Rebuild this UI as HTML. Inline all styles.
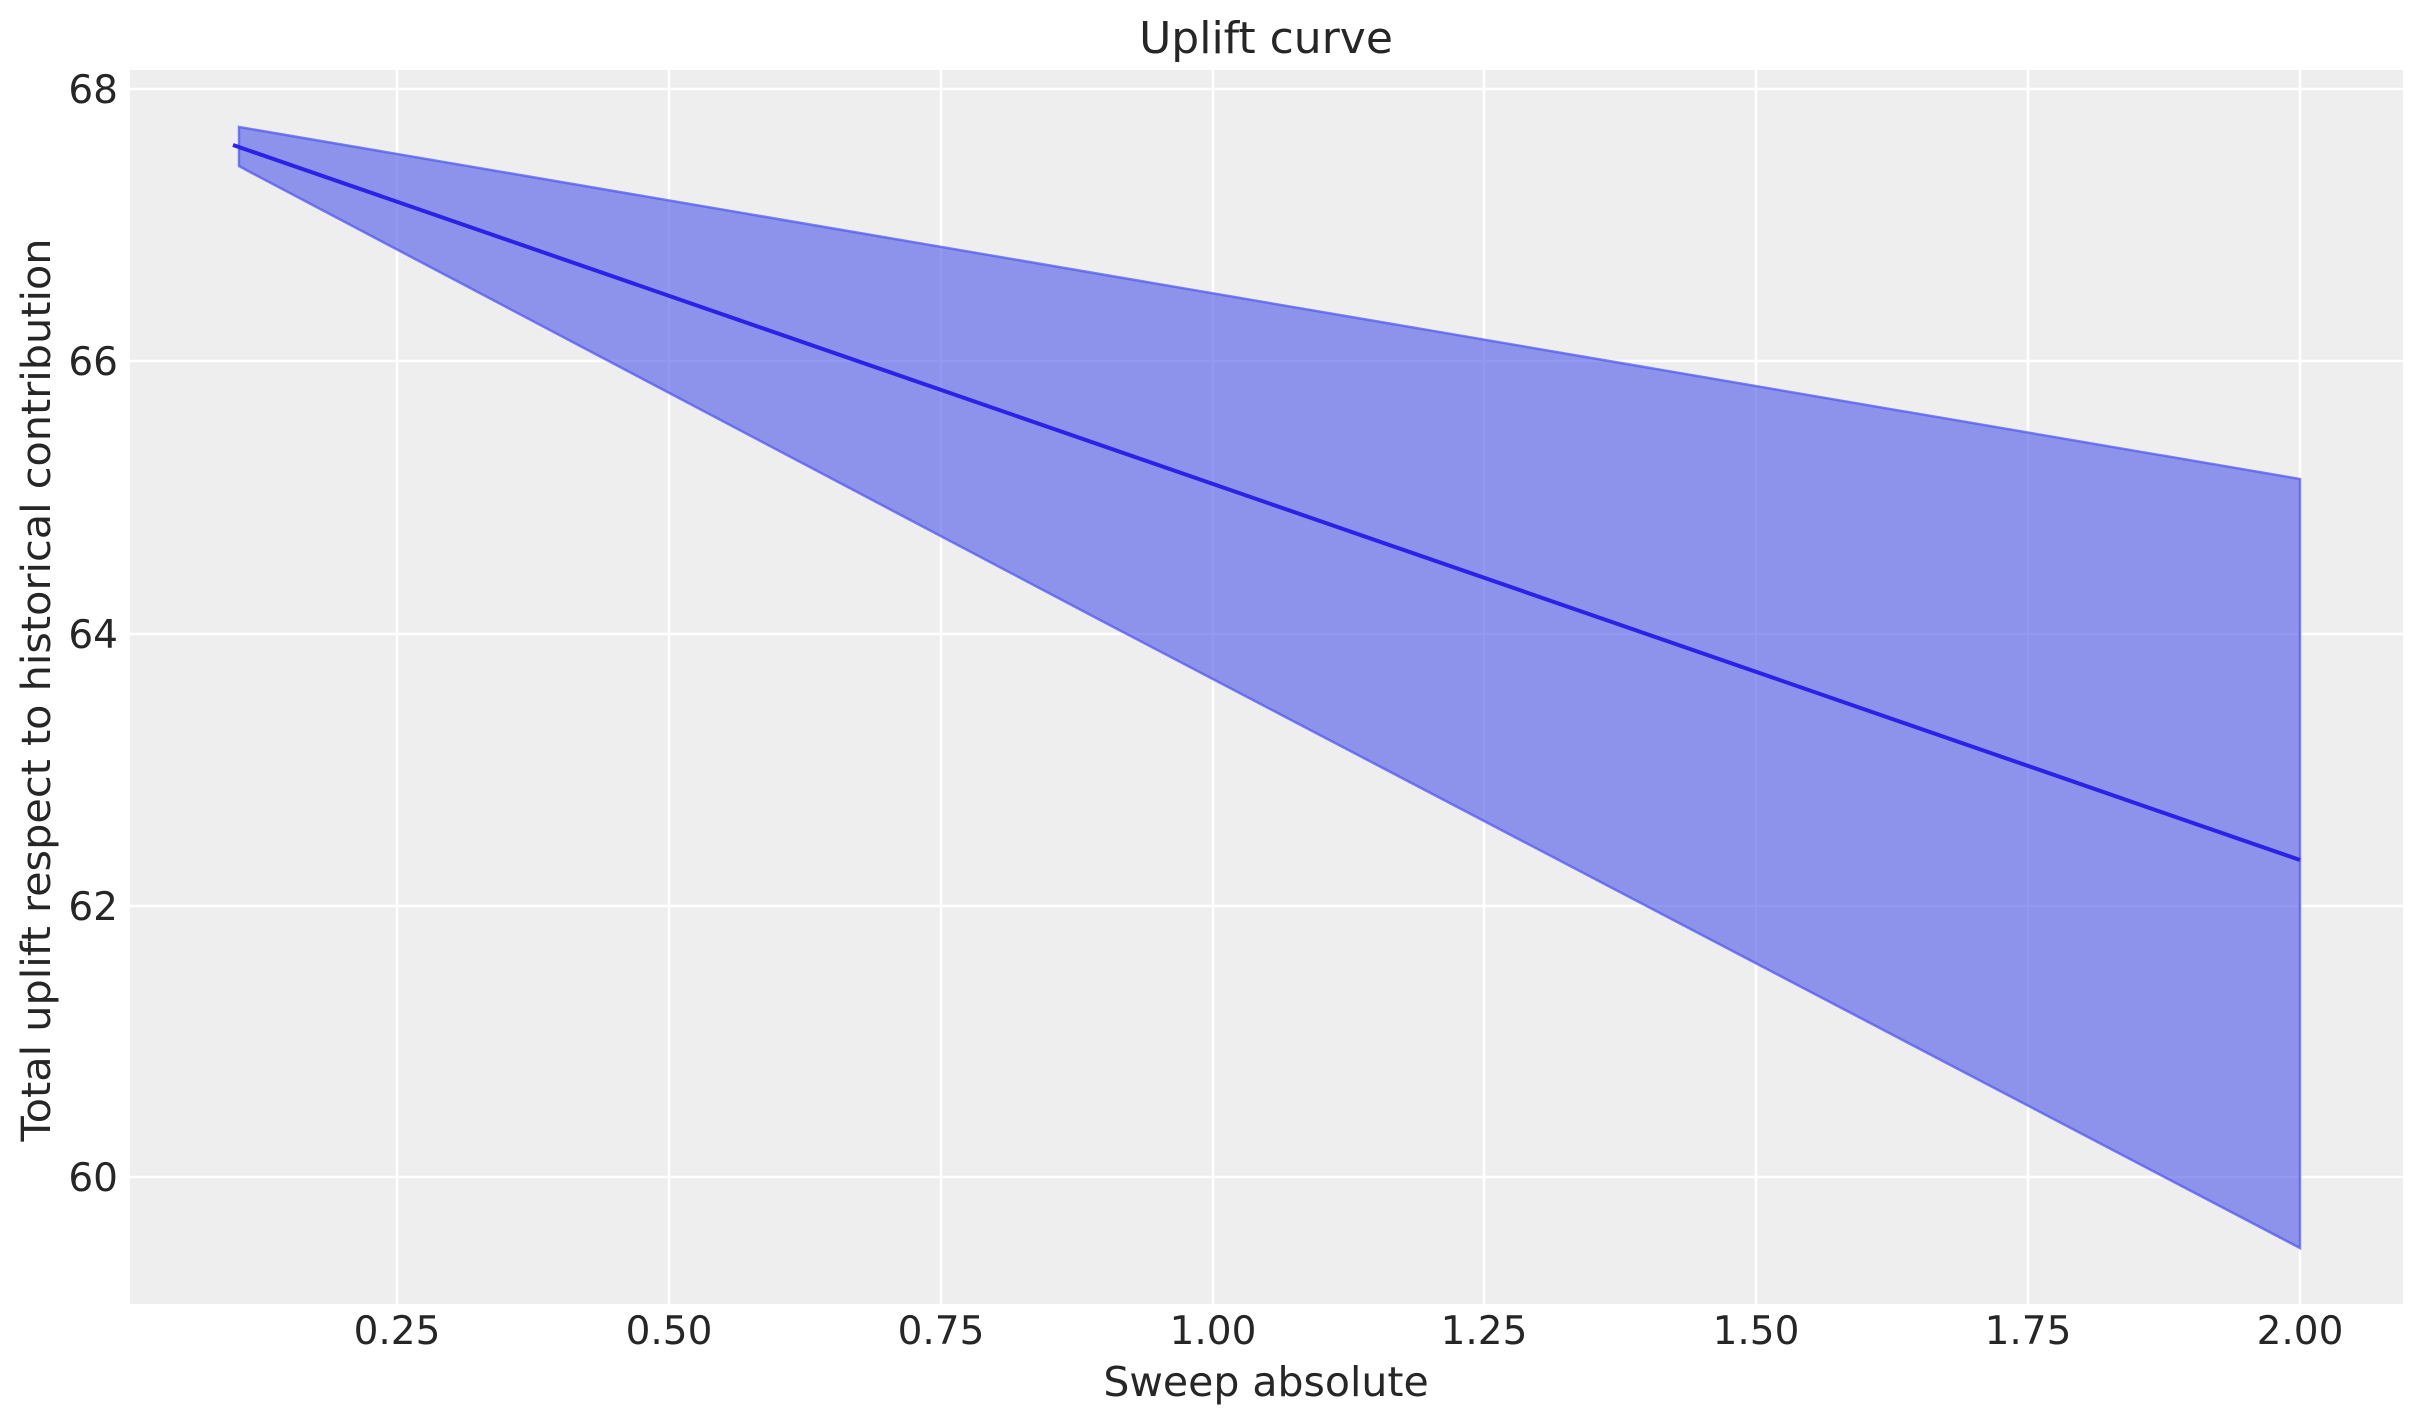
<!DOCTYPE html>
<html><head><meta charset="utf-8"><style>
html,body{margin:0;padding:0;background:#fff;}
svg text{font-family:"DejaVu Sans","Liberation Sans",sans-serif;fill:#262626;}
</style></head><body>
<svg width="2423" height="1423" viewBox="0 0 2423 1423" xmlns="http://www.w3.org/2000/svg">
<rect x="130" y="70" width="2273" height="1234" fill="#eeeeee"/>
<g stroke="#ffffff" stroke-width="2.5">
<line x1="397" y1="70" x2="397" y2="1304"/>
<line x1="669" y1="70" x2="669" y2="1304"/>
<line x1="941" y1="70" x2="941" y2="1304"/>
<line x1="1213" y1="70" x2="1213" y2="1304"/>
<line x1="1484" y1="70" x2="1484" y2="1304"/>
<line x1="1756" y1="70" x2="1756" y2="1304"/>
<line x1="2028" y1="70" x2="2028" y2="1304"/>
<line x1="2300" y1="70" x2="2300" y2="1304"/>
<line x1="130" y1="89" x2="2403" y2="89"/>
<line x1="130" y1="361" x2="2403" y2="361"/>
<line x1="130" y1="634" x2="2403" y2="634"/>
<line x1="130" y1="906" x2="2403" y2="906"/>
<line x1="130" y1="1177" x2="2403" y2="1177"/>
</g>
<polygon points="239,127 2300,479 2300,1248 1100,620 250,172 239,166" fill="rgba(80,90,230,0.62)" stroke="rgba(80,90,240,0.75)" stroke-width="2.5"/>
<line x1="233" y1="145" x2="2300" y2="860" stroke="#2a22e8" stroke-width="4"/>
<g font-size="39" text-anchor="middle">
<text x="397" y="1344">0.25</text>
<text x="669" y="1344">0.50</text>
<text x="941" y="1344">0.75</text>
<text x="1213" y="1344">1.00</text>
<text x="1484" y="1344">1.25</text>
<text x="1756" y="1344">1.50</text>
<text x="2028" y="1344">1.75</text>
<text x="2300" y="1344">2.00</text>
</g>
<g font-size="39" text-anchor="end">
<text x="118" y="103">68</text>
<text x="118" y="375">66</text>
<text x="118" y="648">64</text>
<text x="118" y="920">62</text>
<text x="118" y="1191">60</text>
</g>
<text x="1266" y="53" font-size="44" text-anchor="middle">Uplift curve</text>
<text x="1266" y="1396" font-size="41" text-anchor="middle">Sweep absolute</text>
<text transform="translate(50,690) rotate(-90)" font-size="40" text-anchor="middle" textLength="903" lengthAdjust="spacingAndGlyphs">Total uplift respect to historical contribution</text>
</svg>
</body></html>
